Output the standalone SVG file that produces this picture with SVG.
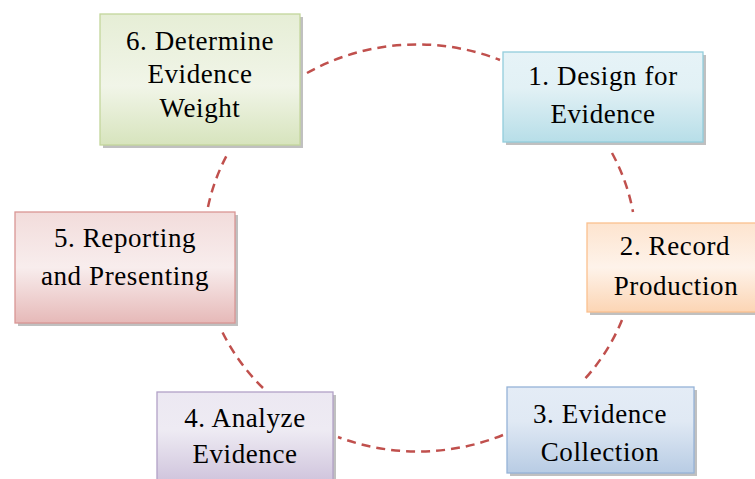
<svg xmlns="http://www.w3.org/2000/svg" width="755" height="479" viewBox="0 0 755 479">
<style>
.conn{fill:none;stroke:#c0504d;stroke-width:2.5;stroke-dasharray:9 6}
.sh{fill:#8c8c8c;opacity:.55}
.box{stroke-width:1.3}
.t{font-family:"Liberation Serif","Times New Roman",serif;font-size:27px;letter-spacing:0.6px;fill:#000;text-anchor:middle}
</style>
<defs>
<linearGradient id="gG" x1="0" y1="0" x2="0" y2="1"><stop offset="0" stop-color="#e6eed6"/><stop offset="0.55" stop-color="#f1f5e8"/><stop offset="1" stop-color="#d7e4bd"/></linearGradient>
<linearGradient id="gA" x1="0" y1="0" x2="0" y2="1"><stop offset="0" stop-color="#e6f3f7"/><stop offset="0.4" stop-color="#e2f1f5"/><stop offset="1" stop-color="#b7dee8"/></linearGradient>
<linearGradient id="gO" x1="0" y1="0" x2="0" y2="1"><stop offset="0" stop-color="#fde4cf"/><stop offset="0.5" stop-color="#fef3ea"/><stop offset="1" stop-color="#fcd5b4"/></linearGradient>
<linearGradient id="gR" x1="0" y1="0" x2="0" y2="1"><stop offset="0" stop-color="#f2dcdb"/><stop offset="0.5" stop-color="#f8eded"/><stop offset="1" stop-color="#e6b9b8"/></linearGradient>
<linearGradient id="gP" x1="0" y1="0" x2="0" y2="1"><stop offset="0" stop-color="#ece8f2"/><stop offset="0.4" stop-color="#eeebf3"/><stop offset="1" stop-color="#ccc0da"/></linearGradient>
<linearGradient id="gB" x1="0" y1="0" x2="0" y2="1"><stop offset="0" stop-color="#e4ecf6"/><stop offset="0.4" stop-color="#e0e9f4"/><stop offset="1" stop-color="#b8cce4"/></linearGradient>
</defs>
<rect width="755" height="479" fill="#fff"/>
<g id="connectors">
<path class="conn" d="M307,73 A216,204 0 0,1 500,60"/>
<path class="conn" d="M612,153 A216,204 0 0,1 633,212"/>
<path class="conn" d="M622,320 A216,204 0 0,1 582,382"/>
<path class="conn" d="M503,435 A216,204 0 0,1 338,437"/>
<path class="conn" d="M263,388 A216,204 0 0,1 220,327"/>
<path class="conn" d="M208,207 A216,204 0 0,1 228,153"/>
</g>
<g id="node6">
<rect class="sh" x="103" y="17" width="200" height="131"/>
<rect class="box" x="100" y="14" width="200" height="131" fill="url(#gG)" stroke="#c3d69b"/>
<text class="t" x="200" y="50">6. Determine</text>
<text class="t" x="200" y="83">Evidence</text>
<text class="t" x="200" y="117">Weight</text>
</g>
<g id="node1">
<rect class="sh" x="506" y="55" width="200" height="90"/>
<rect class="box" x="503" y="52" width="200" height="90" fill="url(#gA)" stroke="#92cddc"/>
<text class="t" x="603" y="85">1. Design for</text>
<text class="t" x="603" y="123">Evidence</text>
</g>
<g id="node2">
<rect class="sh" x="590" y="226" width="176" height="89"/>
<rect class="box" x="587" y="223" width="176" height="89" fill="url(#gO)" stroke="#fac08f"/>
<text class="t" x="675" y="255">2. Record</text>
<text class="t" x="676" y="295">Production</text>
</g>
<g id="node3">
<rect class="sh" x="510" y="390" width="187" height="86"/>
<rect class="box" x="507" y="387" width="187" height="86" fill="url(#gB)" stroke="#95b3d7"/>
<text class="t" x="600" y="423">3. Evidence</text>
<text class="t" x="600" y="461">Collection</text>
</g>
<g id="node4">
<rect class="sh" x="160" y="395" width="176" height="95"/>
<rect class="box" x="157" y="392" width="176" height="95" fill="url(#gP)" stroke="#b2a1c7"/>
<text class="t" x="245" y="427">4. Analyze</text>
<text class="t" x="245" y="463">Evidence</text>
</g>
<g id="node5">
<rect class="sh" x="18" y="215" width="220" height="111"/>
<rect class="box" x="15" y="212" width="220" height="111" fill="url(#gR)" stroke="#d99694"/>
<text class="t" x="125" y="247">5. Reporting</text>
<text class="t" x="125" y="285">and Presenting</text>
</g>
</svg>
